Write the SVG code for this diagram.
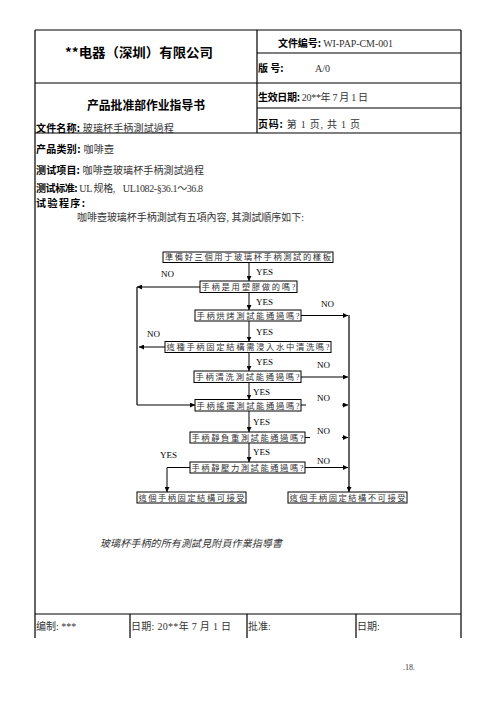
<svg xmlns="http://www.w3.org/2000/svg" width="496" height="702" viewBox="0 0 496 702">
<style>
.frame{stroke:#000;stroke-width:1.2;fill:none}
.b{font-family:"Noto Sans CJK SC","Liberation Sans",sans-serif;font-weight:bold;fill:#000}
.v{font-family:"Liberation Serif","Noto Sans CJK TC",serif;font-weight:normal;fill:#333}
.box rect{fill:#fff;stroke:#000;stroke-width:1}
.box text{font-family:"Liberation Serif","Noto Sans CJK TC",serif;font-size:8.3px;fill:#333;text-anchor:middle}
.lbl{font-family:"Liberation Serif",serif;font-size:9px;fill:#000}
.c{stroke:#000;stroke-width:1;fill:none}
.g{stroke:#666;stroke-width:2;fill:none}
</style>
<defs>
<marker id="ah" viewBox="0 0 10 10" refX="10" refY="5" markerWidth="5" markerHeight="5" markerUnits="userSpaceOnUse" orient="auto">
<path d="M0,0 L10,5 L0,10 z" fill="#000"/>
</marker>
</defs>
<rect width="496" height="702" fill="#fff"/>
<g id="table">
<path class="frame" d="M35 30 H461 M35 30 V638 M461 30 V638 M257 30 V133 M257 53 H461 M35 83 H461 M257 108 H461 M35 133 H461 M35 614 H461 M130 614 V638 M247 614 V638 M356 614 V638"/>
<text class="b" x="65" y="57" font-size="13" textLength="148" lengthAdjust="spacingAndGlyphs">**电器（深圳）有限公司</text>
<text class="b" x="87" y="109.5" font-size="12" textLength="118" lengthAdjust="spacingAndGlyphs">产品批准部作业指导书</text>
<text x="36" y="132" font-size="10" textLength="138"><tspan class="b">文件名称:</tspan><tspan class="v"> 玻璃杯手柄測試過程</tspan></text>
<text x="278" y="46.5" font-size="10" textLength="115"><tspan class="b">文件编号:</tspan><tspan class="v"> WI-PAP-CM-001</tspan></text>
<text class="b" x="258" y="71.5" font-size="10">版 号:</text>
<text class="v" x="315" y="71.5" font-size="10">A/0</text>
<text x="258" y="100.5" font-size="10" textLength="110"><tspan class="b">生效日期:</tspan><tspan class="v"> 20**年 7 月 1 日</tspan></text>
<text x="258" y="127.5" font-size="10" textLength="102"><tspan class="b">页码:</tspan><tspan class="v"> 第 1 页, 共 1 页</tspan></text>
<text x="36" y="152.5" font-size="10" textLength="78"><tspan class="b">产品类别:</tspan><tspan class="v"> 咖啡壺</tspan></text>
<text x="36" y="173.5" font-size="10" textLength="168"><tspan class="b">测试项目:</tspan><tspan class="v"> 咖啡壺玻璃杯手柄測試過程</tspan></text>
<text x="36" y="191.5" font-size="10" textLength="167"><tspan class="b">测试标准:</tspan><tspan class="v"> UL 规格,</tspan><tspan class="v" dx="8">UL1082-§36.1～36.8</tspan></text>
<text class="b" x="36" y="206.5" font-size="10" textLength="49">试验程序:</text>
<text class="v" x="77" y="220.5" font-size="10" textLength="227">咖啡壺玻璃杯手柄測試有五項內容, 其測試順序如下:</text>
<text class="v" x="100" y="546.5" font-size="10" font-style="italic" textLength="182" fill="#444">玻璃杯手柄的所有測試見附頁作業指導書</text>
<text class="v" x="36" y="629.5" font-size="10">编制: ***</text>
<text class="v" x="131" y="629.5" font-size="10" textLength="100">日期: 20**年 7 月 1 日</text>
<text class="v" x="248" y="629.5" font-size="10">批准:</text>
<text class="v" x="357" y="629.5" font-size="10">日期:</text>
<text class="v" x="403" y="670" font-size="8">.18.</text>
</g>
<g id="connectors">
<path class="c" d="M249 262.5 V281" marker-end="url(#ah)"/>
<path class="c" d="M249 292.5 V310" marker-end="url(#ah)"/>
<path class="c" d="M249 321 V341.5" marker-end="url(#ah)"/>
<path class="c" d="M249 352.5 V371" marker-end="url(#ah)"/>
<path class="c" d="M249 382.5 V399.5" marker-end="url(#ah)"/>
<path class="c" d="M249 411 V432" marker-end="url(#ah)"/>
<path class="c" d="M249 443 V462" marker-end="url(#ah)"/>
<path class="g" d="M137 287 V405"/>
<path class="c" d="M200 287 H137" marker-end="url(#ah)"/>
<path class="c" d="M165 347 H139" marker-end="url(#ah)"/>
<path class="c" d="M137 405 H195" marker-end="url(#ah)"/>
<path class="c" d="M190 467.5 H167 V492" marker-end="url(#ah)"/>
<path class="g" d="M349 315 V487"/>
<path class="c" d="M349 486 V492" marker-end="url(#ah)"/>
<path class="c" d="M301 315.5 H348" marker-end="url(#ah)"/>
<path class="c" d="M301 377 H348" marker-end="url(#ah)"/>
<path class="c" d="M301 405 H306"/>
<path class="c" d="M342 405 H348" marker-end="url(#ah)"/>
<path class="c" d="M305 437.5 H310"/>
<path class="c" d="M342 437.5 H348" marker-end="url(#ah)"/>
<path class="c" d="M305 467.5 H348" marker-end="url(#ah)"/>
<text class="lbl" x="256" y="275">YES</text>
<text class="lbl" x="256" y="305">YES</text>
<text class="lbl" x="256" y="335">YES</text>
<text class="lbl" x="256" y="365">YES</text>
<text class="lbl" x="253" y="395">YES</text>
<text class="lbl" x="253" y="425">YES</text>
<text class="lbl" x="253" y="455">YES</text>
<text class="lbl" x="160" y="458">YES</text>
<text class="lbl" x="161" y="277">NO</text>
<text class="lbl" x="147" y="337">NO</text>
<text class="lbl" x="321" y="307">NO</text>
<text class="lbl" x="317" y="368">NO</text>
<text class="lbl" x="317" y="401">NO</text>
<text class="lbl" x="317" y="434">NO</text>
<text class="lbl" x="317" y="464">NO</text>
</g>
<g id="n1" class="box"><rect x="163" y="252" width="170" height="10.5"/><text x="248" y="260.4" textLength="166">準備好三個用于玻璃杯手柄測試的樣板</text></g>
<g id="n2" class="box"><rect x="200" y="281" width="97" height="11.5"/><text x="248.5" y="290" textLength="94">手柄是用塑膠做的嗎?</text></g>
<g id="n3" class="box"><rect x="195" y="310" width="106" height="11"/><text x="248" y="318.7" textLength="103">手柄烘烤測試能通過嗎?</text></g>
<g id="n4" class="box"><rect x="165" y="341.5" width="166" height="11"/><text x="248" y="350.2" textLength="163">這種手柄固定結構需浸入水中清洗嗎?</text></g>
<g id="n5" class="box"><rect x="194" y="371" width="107" height="11.5"/><text x="247.5" y="380" textLength="104">手柄清洗測試能通過嗎?</text></g>
<g id="n6" class="box"><rect x="195" y="399.5" width="106" height="11.5"/><text x="248" y="408.5" textLength="103">手柄搖擺測試能通過嗎?</text></g>
<g id="n7" class="box"><rect x="190" y="432" width="115" height="11"/><text x="247.5" y="440.7" textLength="112">手柄靜負重測試能通過嗎?</text></g>
<g id="n8" class="box"><rect x="190" y="462" width="115" height="11"/><text x="247.5" y="470.7" textLength="112">手柄靜壓力測試能通過嗎?</text></g>
<g id="n9" class="box"><rect x="137" y="492" width="109" height="11"/><text x="191.5" y="500.7" textLength="106">這個手柄固定結構可接受</text></g>
<g id="n10" class="box"><rect x="288" y="492" width="119" height="11"/><text x="347.5" y="500.7" textLength="116">這個手柄固定結構不可接受</text></g>
</svg>
